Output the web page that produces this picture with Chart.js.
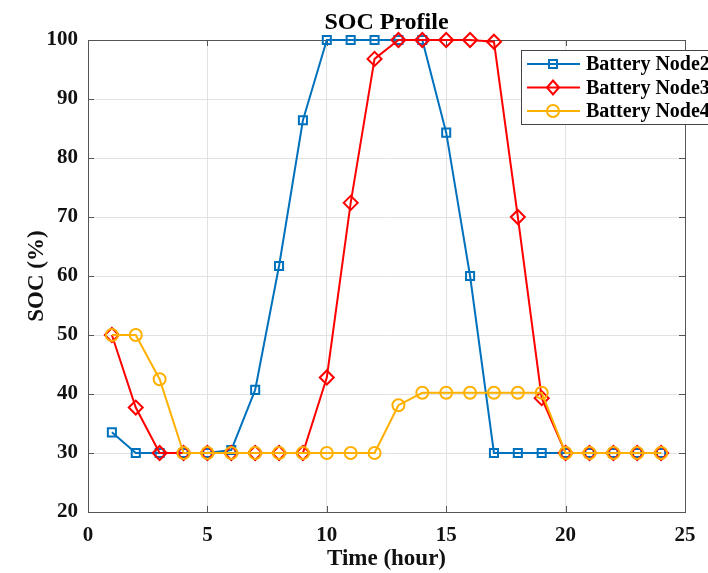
<!DOCTYPE html>
<html>
<head>
<meta charset="utf-8">
<title>SOC Profile</title>
<script src="https://cdn.jsdelivr.net/npm/chart.js"></script>
<style>
  html, body { margin: 0; padding: 0; background: #fff; }
  #wrap { width: 708px; height: 573px; }
</style>
</head>
<body>
<div id="wrap"><canvas id="socChart" width="708" height="573"></canvas></div>
<script>
// hours 1..24
var hours = [1, 2, 3, 4, 5, 6, 7, 8, 9, 10, 11, 12, 13, 14, 15, 16, 17, 18, 19, 20, 21, 22, 23, 24];
var socNode2 = [33.5, 30, 30, 30, 30, 30.5, 40.7, 61.7, 86.4, 100, 100, 100, 100, 100, 84.3, 60, 30, 30, 30, 30, 30, 30, 30, 30];
var socNode3 = [50, 37.7, 30, 30, 30, 30, 30, 30, 30, 42.8, 72.4, 96.8, 100, 100, 100, 100, 99.7, 70, 39.3, 30, 30, 30, 30, 30];
var socNode4 = [50, 50, 42.5, 30, 30, 30, 30, 30, 30, 30, 30, 30, 38.1, 40.2, 40.2, 40.2, 40.2, 40.2, 40.2, 30, 30, 30, 30, 30];
var seriesNames = ['Battery Node2', 'Battery Node3', 'Battery Node4'];
var chartTitle = 'SOC Profile';

var blue = '#0072BD', red = '#FF0000', gold = '#FFB000';
var serif = '"Liberation Serif", "Times New Roman", serif';

function pts(ys) {
    return hours.map(function(h, i) { return {x: h, y: ys[i]}; });
}

function drawMarker(ctx, style, x, y) {
    ctx.beginPath();
    if (style === 'rect') {
        ctx.rect(x - 4, y - 4, 8, 8);
    } else if (style === 'rectRot') {
        ctx.moveTo(x, y - 7); ctx.lineTo(x + 6, y); ctx.lineTo(x, y + 7); ctx.lineTo(x - 6, y); ctx.closePath();
    } else {
        ctx.arc(x, y, 6, 0, Math.PI * 2);
    }
    ctx.stroke();
}

// MATLAB-like frame: box on all sides, ticks pointing inwards
var framePlugin = {
    id: 'frame',
    beforeDatasetsDraw: function(chart) {
        var ctx = chart.ctx, a = chart.chartArea;
        var xs = chart.scales.x, ys = chart.scales.y;
        ctx.save();
        ctx.strokeStyle = '#555';
        ctx.lineWidth = 1;
        ctx.beginPath();
        xs.ticks.forEach(function(t) {
            var px = Math.round(xs.getPixelForValue(t.value)) + 0.5;
            ctx.moveTo(px, a.bottom); ctx.lineTo(px, a.bottom - 6);
            ctx.moveTo(px, a.top); ctx.lineTo(px, a.top + 6);
        });
        ys.ticks.forEach(function(t) {
            var py = Math.round(ys.getPixelForValue(t.value)) + 0.5;
            ctx.moveTo(a.left, py); ctx.lineTo(a.left + 6, py);
            ctx.moveTo(a.right, py); ctx.lineTo(a.right - 6, py);
        });
        ctx.stroke();
        ctx.strokeRect(Math.round(a.left) + 0.5, Math.round(a.top) + 0.5,
                       Math.round(a.right - a.left), Math.round(a.bottom - a.top));
        ctx.restore();
    },
    afterDraw: function(chart) {
        var ctx = chart.ctx, a = chart.chartArea;
        ctx.save();
        // title centred over the axes
        ctx.font = 'bold 24px ' + serif;
        ctx.fillStyle = '#000';
        ctx.textAlign = 'center';
        ctx.textBaseline = 'middle';
        ctx.fillText(chartTitle, (a.left + a.right) / 2, 23);

        // legend box in the upper right of the axes
        var bx = 521, by = 50, bw = 200, bh = 74;
        ctx.fillStyle = '#fff';
        ctx.fillRect(bx, by, bw, bh);
        ctx.strokeStyle = '#444';
        ctx.lineWidth = 1;
        ctx.strokeRect(bx + 0.5, by + 0.5, bw, bh);
        ctx.font = 'bold 20px ' + serif;
        ctx.textAlign = 'left';
        ctx.fillStyle = '#000';
        chart.data.datasets.forEach(function(ds, i) {
            var y = 64 + i * 23.5;
            ctx.strokeStyle = ds.borderColor;
            ctx.lineWidth = 2;
            ctx.beginPath(); ctx.moveTo(527, y); ctx.lineTo(580, y); ctx.stroke();
            drawMarker(ctx, ds.pointStyle, 553, y);
            ctx.fillText(ds.label, 586, y + 1);
        });
        ctx.restore();
    }
};

var ctx = document.getElementById('socChart').getContext('2d');
var chart = new Chart(ctx, {
    type: 'line',
    data: {
        datasets: [
            { label: seriesNames[0], data: pts(socNode2), borderColor: blue, pointStyle: 'rect',
              pointRadius: 5.7, order: 2, clip: false },
            { label: seriesNames[1], data: pts(socNode3), borderColor: red, pointStyle: 'rectRot',
              pointRadius: 7, order: 1, clip: false },
            { label: seriesNames[2], data: pts(socNode4), borderColor: gold, pointStyle: 'circle',
              pointRadius: 6, order: 0, clip: false }
        ]
    },
    options: {
        responsive: false,
        animation: false,
        layout: { padding: { left: 0, right: 23, top: 40, bottom: 0 } },
        elements: {
            line: { borderWidth: 2, tension: 0, fill: false },
            point: { backgroundColor: 'rgba(0,0,0,0)', borderWidth: 2, hoverRadius: 6 }
        },
        plugins: {
            legend: { display: false },
            tooltip: { enabled: false },
            title: { display: false }
        },
        scales: {
            x: {
                type: 'linear',
                min: 0, max: 25,
                ticks: { stepSize: 5, color: '#111', padding: 11,
                         font: { family: serif, size: 21, weight: 'bold' } },
                grid: { color: '#e2e2e2', drawTicks: false },
                border: { display: false },
                title: { display: true, text: 'Time (hour)', color: '#111',
                         font: { family: serif, size: 23, weight: 'bold' },
                         padding: { top: 0, bottom: 0 } },
                afterFit: function(s) { s.height = 61; }
            },
            y: {
                min: 20, max: 100,
                ticks: { stepSize: 10, color: '#111', padding: 10,
                         font: { family: serif, size: 21, weight: 'bold' } },
                grid: { color: '#e2e2e2', drawTicks: false },
                border: { display: false },
                title: { display: true, text: 'SOC (%)', color: '#111',
                         font: { family: serif, size: 23, weight: 'bold' },
                         padding: { top: 23, bottom: 0 } },
                afterFit: function(s) { s.width = 88; }
            }
        }
    },
    plugins: [framePlugin]
});
</script>
</body>
</html>
